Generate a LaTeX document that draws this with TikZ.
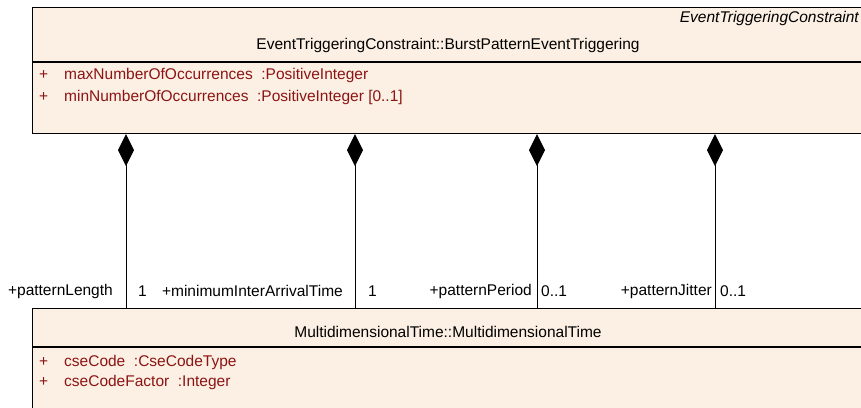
\documentclass[tikz,border=0pt]{standalone}
\usepackage{fontspec}
\setmainfont{Liberation Sans}
\usetikzlibrary{arrows.meta}
\definecolor{classfill}{RGB}{251,240,227}
\definecolor{attrred}{RGB}{140,20,20}
\begin{document}
\begin{tikzpicture}[x=1pt,y=-1pt,
  every node/.style={font=\fontsize{15.5}{18}\selectfont,inner sep=0pt},
  classbox/.style={draw,fill=classfill,line width=1.2pt,anchor=north west,minimum width=832pt},
  stereo/.style={font=\fontsize{15.5}{18}\selectfont\itshape,anchor=east},
  attr/.style={text=attrred,anchor=west},
  role/.style={anchor=east},
  mult/.style={anchor=west},
  compose/.style={{Diamond[length=32pt,width=16pt]}-,line width=1pt}]
\useasboundingbox (0,0) rectangle (861,407);
\clip (0,0) rectangle (861,407);
% classes
\node[classbox,minimum height=126pt] (burst) at (32,7) {};
\draw[line width=1.2pt] (32,62) -- (864,62);
\node[stereo] (burststereo) at (859,18) {EventTriggeringConstraint};
\node (burstname) at (448,45) {EventTriggeringConstraint::BurstPatternEventTriggering};
\foreach \y/\t in {75/{maxNumberOfOccurrences~ :PositiveInteger},97/{minNumberOfOccurrences~ :PositiveInteger [0..1]}} {
  \node[attr] at (39,\y) {+};
  \node[attr] at (64,\y) {\t};
}
\node[classbox,minimum height=120pt] (mdt) at (32,308) {};
\draw[line width=1.2pt] (32,347) -- (864,347);
\node (mdtname) at (448,332) {MultidimensionalTime::MultidimensionalTime};
\foreach \y/\t in {362/{cseCode~ :CseCodeType},382/{cseCodeFactor~ :Integer}} {
  \node[attr] at (39,\y) {+};
  \node[attr] at (64,\y) {\t};
}
% compositions
\foreach \x in {126,355,537,715} {\draw[compose] (burst.south -| \x,0) -- (mdt.north -| \x,0);}
\node[role] (lengthrole) at (113,291) {+patternLength};
\node[mult] (lengthmult) at (138,291) {1};
\node[role] (interrole) at (343,291) {+minimumInterArrivalTime};
\node[mult] (intermult) at (368,291) {1};
\node[role] (periodrole) at (532,291) {+patternPeriod};
\node[mult] (periodmult) at (541,291) {0..1};
\node[role] (jitterrole) at (712,291) {+patternJitter};
\node[mult] (jittermult) at (720,291) {0..1};
\end{tikzpicture}
\end{document}
